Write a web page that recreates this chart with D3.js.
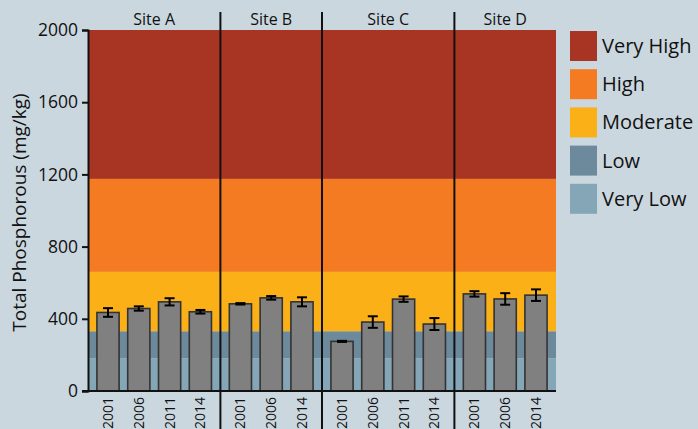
<!DOCTYPE html>
<html>
<head>
<meta charset="utf-8">
<script src="https://cdn.jsdelivr.net/npm/d3@7"></script>
<style>
  body { margin: 0; background: #cbd7df; }
  svg { display: block; font-family: "Open Sans", "DejaVu Sans", sans-serif; }
</style>
</head>
<body>
<div id="chart"></div>
<script>
// data
var sites = ['Site A', 'Site B', 'Site C', 'Site D']
var siteYears = [
    ['2001', '2006', '2011', '2014'],
    ['2001', '2006', '2014'],
    ['2001', '2006', '2011', '2014'],
    ['2001', '2006', '2014']
]
var siteMeans = [
    [435, 457, 494, 439],
    [483, 516, 494],
    [275, 382, 509, 371],
    [538, 510, 531]
]
var siteErrors = [
    [24, 12, 20, 10],
    [4, 10, 25],
    [3, 32, 15, 33],
    [15, 32, 32]
]
var bandNames = ['Very High', 'High', 'Moderate', 'Low', 'Very Low']
var bandLower = [1175, 660, 330, 180, 0]
var bandUpper = [2000, 1175, 660, 330, 180]
var bandColors = ['#a83424', '#f47b21', '#fbb018', '#6d8a9c', '#84a6b6']
var yTicks = [0, 400, 800, 1200, 1600, 2000]

const margin = { top: 30, left: 88, bottom: 38, right: 142 }
const config = {
    width: 698,
    height: 429,
    plotW: 698 - margin.left - margin.right,
    plotH: 429 - margin.top - margin.bottom
}

var svg = d3.select('#chart').append('svg')
    .attr('width', config.width)
    .attr('height', config.height)

var y = d3.scaleLinear().domain([0, 2000]).range([config.plotH, 0])

var plot = svg.append('g')
    .attr('transform', 'translate(' + margin.left + ',' + margin.top + ')')

// background rating bands
plot.selectAll('rect.band')
    .data(bandNames)
    .enter()
    .append('rect')
    .attr('class', 'band')
    .attr('x', 0)
    .attr('width', config.plotW)
    .attr('y', (d, i) => y(bandUpper[i]))
    .attr('height', (d, i) => y(bandLower[i]) - y(bandUpper[i]))
    .attr('fill', (d, i) => bandColors[i])

// panel widths follow the number of years at each site
var weights = siteYears.map(ys => ys.length + 0.3)
var totalW = d3.sum(weights)
var panelX = d3.scaleLinear().domain([0, totalW]).range([0, config.plotW])
var starts = weights.map((w, i) => d3.sum(weights.slice(0, i)))

sites.forEach((site, s) => {
    var x0 = panelX(starts[s])
    var x1 = panelX(starts[s] + weights[s])
    var x = d3.scaleBand().domain(siteYears[s]).range([x0, x1]).paddingInner(0.28).paddingOuter(0.29)
    var g = plot.append('g')

    var rows = siteYears[s].map((yr, i) => ({ year: yr, mean: siteMeans[s][i], err: siteErrors[s][i] }))

    g.selectAll('rect.bar')
        .data(rows)
        .enter()
        .append('rect')
        .attr('class', 'bar')
        .attr('x', d => x(d.year))
        .attr('width', x.bandwidth())
        .attr('y', d => y(d.mean))
        .attr('height', d => y(0) - y(d.mean))
        .attr('fill', '#808080')
        .attr('stroke', '#333')
        .attr('stroke-width', 1.6)

    // error bars
    var eb = g.selectAll('g.err').data(rows).enter().append('g')
        .attr('stroke', '#000').attr('stroke-width', 2)
    eb.append('line')
        .attr('x1', d => x(d.year) + x.bandwidth() / 2)
        .attr('x2', d => x(d.year) + x.bandwidth() / 2)
        .attr('y1', d => y(d.mean + d.err))
        .attr('y2', d => y(d.mean - d.err))
    eb.append('line')
        .attr('x1', d => x(d.year) + x.bandwidth() / 2 - 5)
        .attr('x2', d => x(d.year) + x.bandwidth() / 2 + 5)
        .attr('y1', d => y(d.mean + d.err))
        .attr('y2', d => y(d.mean + d.err))
    eb.append('line')
        .attr('x1', d => x(d.year) + x.bandwidth() / 2 - 5)
        .attr('x2', d => x(d.year) + x.bandwidth() / 2 + 5)
        .attr('y1', d => y(d.mean - d.err))
        .attr('y2', d => y(d.mean - d.err))

    // x labels, rotated
    g.selectAll('text.yr')
        .data(siteYears[s])
        .enter()
        .append('text')
        .attr('transform', d => 'translate(' + (x(d) + x.bandwidth() / 2 + 5) + ',' + (config.plotH + 6) + ') rotate(-90)')
        .attr('text-anchor', 'end')
        .attr('font-size', 14)
        .attr('fill', '#111')
        .text(d => d)

    // site title
    plot.append('text')
        .attr('x', (x0 + x1) / 2)
        .attr('y', -5)
        .attr('text-anchor', 'middle')
        .attr('font-size', 16)
        .attr('fill', '#111')
        .text(site)

    // divider between panels
    if (s > 0) {
        plot.append('line')
            .attr('x1', x0).attr('x2', x0)
            .attr('y1', -18).attr('y2', config.height - margin.top)
            .attr('stroke', '#111').attr('stroke-width', 2)
    }
})

// y axis
var yAxis = d3.axisLeft(y).tickValues(yTicks).tickFormat(d3.format('d')).tickSize(6).tickPadding(4)
var ya = plot.append('g').call(yAxis)
ya.select('.domain').attr('stroke', '#111').attr('stroke-width', 2)
ya.selectAll('.tick line').attr('stroke', '#111').attr('stroke-width', 2)
ya.selectAll('.tick text').attr('font-size', 17.5).attr('fill', '#111')
    .style('font-family', '"Open Sans", sans-serif')

// baseline
plot.append('line')
    .attr('x1', -6).attr('x2', config.plotW)
    .attr('y1', y(0)).attr('y2', y(0))
    .attr('stroke', '#111').attr('stroke-width', 2)

// y title
svg.append('text')
    .attr('transform', 'translate(26,' + (margin.top + config.plotH / 2 + 2) + ') rotate(-90)')
    .attr('text-anchor', 'middle')
    .attr('font-size', 19)
    .attr('fill', '#111')
    .text('Total Phosphorous (mg/kg)')

// legend
var legend = svg.append('g').attr('transform', 'translate(570,31)')
var li = legend.selectAll('g').data(bandNames).enter().append('g')
    .attr('transform', (d, i) => 'translate(0,' + (i * 38.2) + ')')
li.append('rect')
    .attr('width', 27).attr('height', 30)
    .attr('fill', (d, i) => bandColors[i])
li.append('text')
    .attr('x', 32).attr('y', 22)
    .attr('font-size', 20)
    .attr('fill', '#111')
    .text(d => d)
</script>
</body>
</html>
